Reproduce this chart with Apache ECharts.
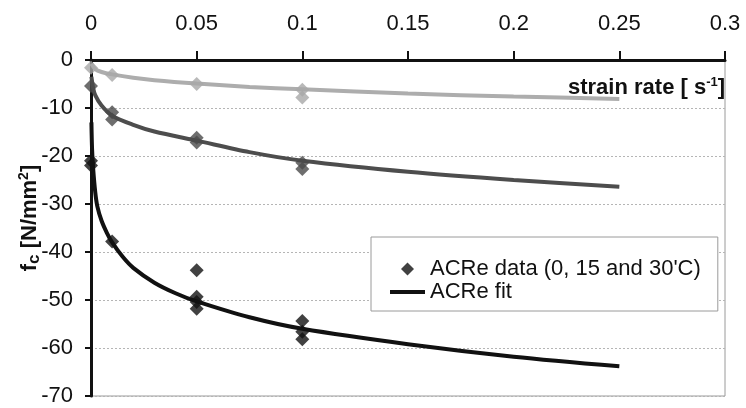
<!DOCTYPE html>
<html>
<head>
<meta charset="utf-8">
<script src="https://cdn.jsdelivr.net/npm/echarts@6/dist/echarts.min.js"></script>
<style>
html,body{margin:0;padding:0;background:#fff;}
#chart{width:746px;height:408px;}
</style>
</head>
<body>
<div id="chart"></div>
<script>
// ---- data ----
var xTicks = [0, 0.05, 0.1, 0.15, 0.2, 0.25, 0.3];
var yTicks = [0, -10, -20, -30, -40, -50, -60, -70];

// measured points (strain rate, fc)
var dataLight = [[0,-1.6],[0.01,-3.1],[0.05,-5.0],[0.1,-6.2],[0.1,-7.8]];
var dataMid = [[0,-5.4],[0.01,-10.9],[0.01,-12.4],[0.05,-16.2],[0.05,-17.2],[0.1,-21.4],[0.1,-22.7]];
var dataDark = [[0,-21],[0,-22],[0.01,-37.8],[0.05,-43.8],[0.05,-49.3],[0.05,-50.4],[0.05,-51.8],[0.1,-54.4],[0.1,-56.6],[0.1,-58.2]];

// fit curves
var fitLight = [[0.0002,-0.8],[0.002,-1.9],[0.005,-2.5],[0.01,-3.0],[0.02,-3.7],[0.03,-4.2],[0.05,-4.9],[0.075,-5.6],[0.1,-6.1],[0.15,-7.0],[0.2,-7.6],[0.25,-8.1]];
var fitMid = [[0.0002,-3.5],[0.001,-5.8],[0.002,-7.3],[0.005,-9.5],[0.01,-11.6],[0.02,-13.5],[0.03,-14.9],[0.05,-16.8],[0.075,-19.2],[0.1,-21.0],[0.15,-23.3],[0.2,-25.0],[0.25,-26.4]];
var fitDark = [[0.0002,-13],[0.0005,-18.5],[0.001,-22.5],[0.002,-27.5],[0.003,-30.5],[0.005,-33.5],[0.0075,-36],[0.01,-38],[0.015,-41],[0.02,-43.3],[0.03,-46.4],[0.04,-48.6],[0.05,-50.3],[0.075,-53.6],[0.1,-56],[0.15,-59.2],[0.2,-61.8],[0.25,-63.8]];

var legendData = ["ACRe data (0, 15 and 30'C)", "ACRe fit"];

var FONT = 'Liberation Sans, Arial, sans-serif';
var chart = echarts.init(document.getElementById('chart'), null, {renderer:'canvas'});

var option = {
  animation: false,
  backgroundColor: '#ffffff',
  grid: {left: 91, right: 21, top: 60, bottom: 12, show: true, borderColor: '#9a9a9a', borderWidth: 1},
  xAxis: {
    type: 'value', position: 'top', min: 0, max: 0.3, interval: 0.05,
    axisLine: {show: true, onZero: false, lineStyle: {color: '#111', width: 3}},
    axisTick: {show: true, inside: false, length: 9, lineStyle: {color: '#111', width: 2}},
    axisLabel: {color: '#111', fontSize: 22, fontFamily: FONT, margin: 25,
      formatter: function(v){ var i = xTicks.indexOf(+v.toFixed(2)); return i >= 0 ? String(xTicks[i]) : ''; }},
    splitLine: {show: false}
  },
  yAxis: {
    type: 'value', min: -70, max: 0, interval: 10,
    axisLine: {show: true, onZero: false, lineStyle: {color: '#111', width: 3}},
    axisTick: {show: true, length: 6, lineStyle: {color: '#111', width: 2}},
    axisLabel: {color: '#111', fontSize: 22, fontFamily: FONT, margin: 18,
      formatter: function(v){ var i = yTicks.indexOf(Math.round(v)); return i >= 0 ? String(yTicks[i]) : ''; }},
    splitLine: {show: true, lineStyle: {color: '#b5b5b5', width: 1, type: [2, 2]}}
  },
  legend: {
    data: [
      {name: legendData[0], icon: 'path://M6,0L12,6L6,12L0,6Z'},
      {name: legendData[1], icon: 'path://M0,0H35V4H0Z'}
    ],
    symbolKeepAspect: true,
    orient: 'vertical', left: 371, top: 237,
    itemWidth: 35, itemHeight: 13, itemGap: 1,
    padding: [21, 17, 8, 19],
    borderColor: '#9a9a9a', borderWidth: 1,
    backgroundColor: '#fff',
    textStyle: {fontSize: 22, fontFamily: FONT, color: '#111', lineHeight: 22}
  },
  graphic: [
    {
      type: 'text', x: 568, y: 88,
      style: {
        text: '{b|strain rate [ s}{sup|-1}{b|]}',
        verticalAlign: 'middle', align: 'left',
        rich: {
          b: {fontSize: 22, fontWeight: 'bold', fontFamily: FONT, fill: '#111', lineHeight: 24},
          sup: {fontSize: 13, fontWeight: 'bold', fontFamily: FONT, fill: '#111', verticalAlign: 'top', lineHeight: 24}
        }
      }
    },
    {
      type: 'text', x: 30, y: 218, rotation: Math.PI / 2,
      style: {
        text: '{b|f}{sub|c}{b| [N/mm}{sup|2}{b|]}',
        align: 'center', verticalAlign: 'middle',
        rich: {
          b: {fontSize: 22, fontWeight: 'bold', fontFamily: FONT, fill: '#111', lineHeight: 26},
          sub: {fontSize: 17, fontWeight: 'bold', fontFamily: FONT, fill: '#111', verticalAlign: 'bottom', lineHeight: 26},
          sup: {fontSize: 14, fontWeight: 'bold', fontFamily: FONT, fill: '#111', verticalAlign: 'top', lineHeight: 26}
        }
      }
    }
  ],
  series: [
    {name: 'fit light', type: 'line', data: fitLight, smooth: 0.3, showSymbol: false, symbol: 'none',
      lineStyle: {color: '#adadad', width: 4}, z: 2},
    {name: 'fit mid', type: 'line', data: fitMid, smooth: 0.3, showSymbol: false, symbol: 'none',
      lineStyle: {color: '#4d4d4d', width: 4}, z: 2},
    {name: 'ACRe fit', type: 'line', data: fitDark, smooth: 0.3, showSymbol: false, symbol: 'none',
      itemStyle: {color: '#111'}, lineStyle: {color: '#111', width: 4}, z: 2},
    {name: 'data light', type: 'scatter', data: dataLight, symbol: 'diamond', symbolSize: 14,
      itemStyle: {color: '#a8a8a8'}, z: 3},
    {name: 'data mid', type: 'scatter', data: dataMid, symbol: 'diamond', symbolSize: 14,
      itemStyle: {color: '#4a4a4a'}, z: 3},
    {name: "ACRe data (0, 15 and 30'C)", type: 'scatter', data: dataDark, symbol: 'diamond', symbolSize: 14,
      itemStyle: {color: '#111'}, z: 3}
  ]
};
chart.setOption(option);
</script>
</body>
</html>
